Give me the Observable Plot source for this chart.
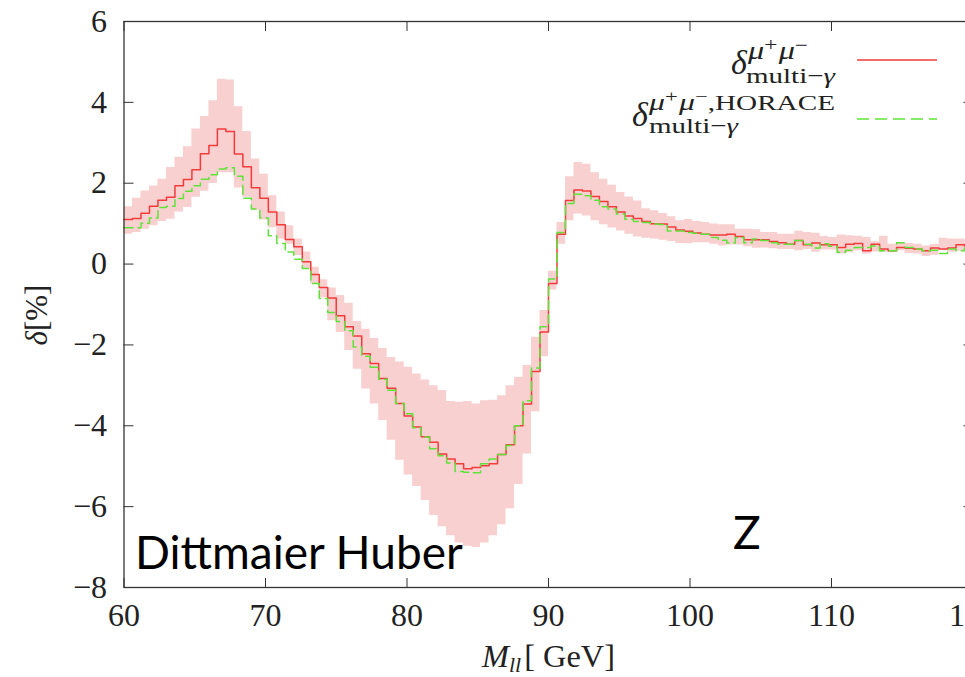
<!DOCTYPE html>
<html>
<head>
<meta charset="utf-8">
<script src="https://cdn.jsdelivr.net/npm/d3@7"></script>
<script src="https://cdn.jsdelivr.net/npm/@observablehq/plot@0.6"></script>
<style>
  html, body { margin: 0; padding: 0; background: white; overflow: hidden; }
  #chart svg, #chart svg text { font-family: "Liberation Serif", "Times New Roman", serif; }
  #chart svg text.anno { font-family: Lato, "Open Sans", sans-serif; }
</style>
</head>
<body>
<div id="chart"></div>
<script>
// ---- data ----
const binStart = 60, binWidth = 0.6; // 100 bins, 60 .. 120 GeV
const xTicks = [60, 70, 80, 90, 100, 110, 120];
const yTicks = [-8, -6, -4, -2, 0, 2, 4, 6];

const deltaMultiGamma = [
  1.10, 1.13, 1.26, 1.43, 1.58, 1.65, 1.94, 2.09, 2.33, 2.73,
  2.93, 3.34, 3.28, 2.72, 2.41, 1.89, 1.63, 1.29, 0.97, 0.61,
  0.43, 0.06, -0.26, -0.58, -0.84, -1.28, -1.55, -1.78, -2.22, -2.46,
  -2.83, -3.07, -3.45, -3.76, -4.03, -4.27, -4.41, -4.70, -4.82, -4.94,
  -5.06, -5.03, -4.99, -4.94, -4.71, -4.47, -4.00, -3.46, -2.66, -1.68,
  -0.48, 0.74, 1.57, 1.83, 1.81, 1.67, 1.55, 1.42, 1.29, 1.19,
  1.13, 1.05, 1.00, 0.99, 0.92, 0.84, 0.81, 0.77, 0.74, 0.72,
  0.72, 0.74, 0.68, 0.60, 0.60, 0.60, 0.56, 0.53, 0.49, 0.58,
  0.48, 0.52, 0.48, 0.48, 0.41, 0.49, 0.51, 0.33, 0.49, 0.37,
  0.33, 0.41, 0.39, 0.37, 0.33, 0.40, 0.37, 0.40, 0.48, 0.45
];
const deltaHorace = [
  0.90, 0.90, 1.01, 1.14, 1.40, 1.43, 1.62, 1.80, 1.94, 2.10,
  2.21, 2.35, 2.38, 2.17, 1.63, 1.36, 1.14, 0.70, 0.51, 0.30,
  0.12, -0.11, -0.48, -0.85, -1.20, -1.42, -1.65, -2.05, -2.28, -2.55,
  -2.85, -3.12, -3.45, -3.70, -4.05, -4.28, -4.57, -4.74, -4.92, -5.13,
  -5.15, -5.16, -4.94, -4.82, -4.71, -4.49, -4.00, -3.38, -2.57, -1.55,
  -0.37, 0.78, 1.50, 1.73, 1.69, 1.58, 1.42, 1.36, 1.24, 1.11,
  1.05, 1.03, 0.99, 0.98, 0.82, 0.82, 0.78, 0.76, 0.74, 0.66,
  0.59, 0.52, 0.66, 0.53, 0.62, 0.58, 0.53, 0.49, 0.49, 0.58,
  0.49, 0.40, 0.50, 0.44, 0.29, 0.34, 0.41, 0.41, 0.45, 0.33,
  0.33, 0.53, 0.41, 0.37, 0.33, 0.34, 0.26, 0.37, 0.33, 0.40
];
const bandLow = [
  0.74, 0.78, 0.86, 0.95, 1.05, 1.11, 1.29, 1.40, 1.65, 1.80,
  1.99, 2.26, 2.26, 1.88, 1.65, 1.33, 1.09, 0.90, 0.62, 0.49,
  0.21, -0.12, -0.49, -0.83, -1.40, -1.69, -2.14, -2.60, -3.09, -3.46,
  -3.87, -4.36, -4.85, -5.22, -5.50, -5.85, -6.22, -6.50, -6.72, -6.90,
  -6.98, -7.01, -6.90, -6.72, -6.45, -6.05, -5.45, -4.70, -3.65, -2.29,
  -0.64, 0.49, 1.07, 1.24, 1.19, 1.07, 0.97, 0.89, 0.82, 0.74,
  0.67, 0.64, 0.62, 0.59, 0.56, 0.51, 0.50, 0.53, 0.53, 0.49,
  0.45, 0.47, 0.47, 0.43, 0.39, 0.40, 0.38, 0.36, 0.36, 0.33,
  0.36, 0.29, 0.35, 0.35, 0.25, 0.28, 0.33, 0.25, 0.30, 0.29,
  0.29, 0.33, 0.26, 0.25, 0.19, 0.22, 0.35, 0.29, 0.32, 0.30
];
const bandHigh = [
  1.42, 1.63, 1.81, 1.93, 2.10, 2.39, 2.64, 2.90, 3.34, 3.65,
  4.04, 4.57, 4.55, 3.89, 3.28, 2.60, 2.22, 1.69, 1.29, 0.95,
  0.62, 0.30, -0.08, -0.39, -0.59, -0.78, -0.97, -1.42, -1.61, -1.84,
  -2.09, -2.31, -2.42, -2.55, -2.72, -2.87, -3.01, -3.13, -3.40, -3.42,
  -3.40, -3.46, -3.38, -3.37, -3.26, -3.01, -2.80, -2.51, -1.81, -1.15,
  -0.18, 1.03, 2.16, 2.51, 2.47, 2.26, 2.10, 1.95, 1.77, 1.66,
  1.56, 1.37, 1.32, 1.25, 1.17, 1.07, 1.10, 1.05, 1.03, 0.99,
  0.97, 0.97, 0.86, 0.86, 0.85, 0.78, 0.78, 0.74, 0.74, 0.81,
  0.78, 0.76, 0.68, 0.66, 0.72, 0.70, 0.69, 0.66, 0.55, 0.69,
  0.49, 0.53, 0.51, 0.49, 0.45, 0.49, 0.64, 0.62, 0.62, 0.60
];

// ---- build step rows: one per bin start, plus the closing edge ----
const nBins = deltaMultiGamma.length;
const rows = d3.range(nBins + 1).map(i => {
  const j = Math.min(i, nBins - 1);
  return {
    x: +(binStart + binWidth * i).toFixed(2),
    red: deltaMultiGamma[j],
    green: deltaHorace[j],
    lo: bandLow[j],
    hi: bandHigh[j]
  };
});

const minus = d => d < 0 ? "\u2212" + (-d) : String(d);
const frameColor = "#333";

const plot = Plot.plot({
  width: 965,
  height: 677,
  marginLeft: 123.5,
  marginRight: -7.5,
  marginTop: 21,
  marginBottom: 90,
  style: "font-family: 'Liberation Serif', serif; font-size: 32px; color: #222; background: white; max-width: none; overflow: hidden;",
  x: {domain: [60, 120]},
  y: {domain: [-8, 6]},
  marks: [
    Plot.areaY(rows, {x: "x", y1: "lo", y2: "hi", curve: "step-after", fill: "#f8d0d0"}),
    Plot.line(rows, {x: "x", y: "red", curve: "step-after", stroke: "#f23b3b", strokeWidth: 1.5}),
    Plot.line(rows, {x: "x", y: "green", curve: "step-after", stroke: "#5fe23a", strokeWidth: 1.5, strokeDasharray: "9,5"}),
    // inward ticks on all four sides
    Plot.axisX(xTicks, {anchor: "bottom", tickSize: -9, tickFormat: () => "", label: null, stroke: frameColor}),
    Plot.axisX(xTicks, {anchor: "top", tickSize: -9, tickFormat: () => "", label: null, stroke: frameColor}),
    Plot.axisY(yTicks, {anchor: "left", tickSize: -10, tickFormat: () => "", label: null, stroke: frameColor}),
    Plot.axisY(yTicks, {anchor: "right", tickSize: -10, tickFormat: () => "", label: null, stroke: frameColor}),
    // tick labels
    Plot.axisX(xTicks, {anchor: "bottom", tickSize: 0, tickPadding: 16, label: null, tickFormat: d => String(d), fontFamily: "Liberation Serif"}),
    Plot.axisY(yTicks, {anchor: "left", tickSize: 0, tickPadding: 17, label: null, tickFormat: minus, fontFamily: "Liberation Serif"}),
    Plot.frame({stroke: frameColor, strokeWidth: 1.3})
  ]
});

document.getElementById("chart").appendChild(plot);

// ---- text overlays (legend, axis titles, annotations) ----
const svg = d3.select(plot);
const serif = "'Liberation Serif', serif";

function addText(x, y, parts, opts = {}) {
  const t = svg.append("text")
    .attr("x", x).attr("y", y)
    .attr("font-family", opts.family || serif)
    .attr("font-size", opts.size || 32)
    .attr("fill", opts.fill || "#222")
    .attr("text-anchor", opts.anchor || "start");
  if (opts.cls) t.attr("class", opts.cls);
  if (opts.transform) t.attr("transform", opts.transform).attr("x", 0).attr("y", 0);
  if (opts.textLength) t.attr("textLength", opts.textLength).attr("lengthAdjust", "spacingAndGlyphs");
  for (const p of parts) {
    const s = t.append("tspan").text(p.t);
    if (p.italic) s.attr("font-style", "italic");
    if (p.size) s.attr("font-size", p.size);
    if (p.dy) s.attr("dy", p.dy);
    if (p.dx) s.attr("dx", p.dx);
  }
  return t;
}

// legend entry 1
addText(731, 74, [{t: "\u03b4", italic: true}], {size: 34});
addText(748, 59, [
  {t: "\u03bc", italic: true},
  {t: "+", size: 18, dy: -8},
  {t: "\u03bc", italic: true, dy: 8, dx: 1},
  {t: "\u2212", size: 18, dy: -8}
], {size: 25, textLength: 60});
addText(746, 83, [{t: "multi\u2212"}, {t: "\u03b3", italic: true}], {size: 22, textLength: 89});
// legend entry 2
addText(632, 126, [{t: "\u03b4", italic: true}], {size: 34});
addText(649, 110, [
  {t: "\u03bc", italic: true},
  {t: "+", size: 17, dy: -8},
  {t: "\u03bc", italic: true, dy: 8, dx: 1},
  {t: "\u2212", size: 17, dy: -8},
  {t: ",HORACE", size: 22, dy: 8}
], {size: 24, textLength: 186});
addText(649, 133, [{t: "multi\u2212"}, {t: "\u03b3", italic: true}], {size: 22, textLength: 89});

// legend samples drawn with the same styles as the lines
svg.append("line").attr("x1", 857).attr("x2", 937).attr("y1", 60).attr("y2", 60)
  .attr("stroke", "#f23b3b").attr("stroke-width", 1.5);
svg.append("line").attr("x1", 857).attr("x2", 937).attr("y1", 119).attr("y2", 119)
  .attr("stroke", "#5fe23a").attr("stroke-width", 1.5).attr("stroke-dasharray", "12,6");

// axis titles
addText(0, 0, [{t: "\u03b4", italic: true}, {t: "[%]"}], {size: 31, anchor: "middle", transform: "translate(47,315) rotate(-90)"});
addText(482, 667, [
  {t: "M", italic: true},
  {t: "ll", italic: true, size: 21, dy: 5},
  {t: "[", dy: -5, dx: 3},
  {t: " GeV]"}
], {size: 31, textLength: 133});

// annotations
const sans = "Lato, 'Open Sans', sans-serif";
addText(135, 569, [{t: "Dittmaier Huber"}], {size: 46, family: sans, fill: "#000", cls: "anno"});
addText(733, 549, [{t: "Z"}], {size: 46, family: sans, fill: "#000", cls: "anno"});
</script>
</body>
</html>
